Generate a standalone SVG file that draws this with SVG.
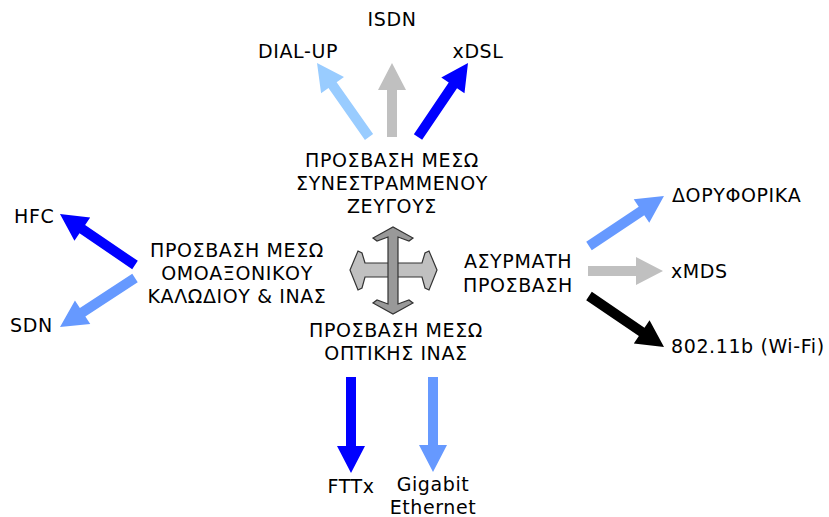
<svg xmlns="http://www.w3.org/2000/svg" width="829" height="517" viewBox="0 0 829 517">
<style>
text{font-family:"DejaVu Sans","Verdana",sans-serif;font-size:19px;fill:#000;letter-spacing:0.6px}
.m{text-anchor:middle}
.b1{fill:#0000ff}.b2{fill:#6699ff}.b3{fill:#99ccff}.g{fill:#c0c0c0}.k{fill:#000}
.cv{fill:#999999;stroke:#333;stroke-width:1.2;stroke-linejoin:miter}
.ch{fill:#c0c0c0;stroke:#333;stroke-width:1.2;stroke-linejoin:miter}
</style>
<rect width="829" height="517" fill="#fff"/>
<g id="connectors">
<polygon class="b3" transform="translate(369,137) rotate(-125.1)" points="0,-5 63.4,-5 63.4,-14 90.4,0 63.4,14 63.4,5 0,5"/>
<polygon class="g" transform="translate(392,137) rotate(-90)" points="0,-5 47,-5 47,-14 74,0 47,14 47,5 0,5"/>
<polygon class="b1" transform="translate(418,137) rotate(-55.95)" points="0,-5 62.3,-5 62.3,-14 89.3,0 62.3,14 62.3,5 0,5"/>
<polygon class="b1" transform="translate(135,265) rotate(-145.8)" points="0,-5 63.7,-5 63.7,-14 90.7,0 63.7,14 63.7,5 0,5"/>
<polygon class="b2" transform="translate(135,278) rotate(146.8)" points="0,-5 62.6,-5 62.6,-14 89.6,0 62.6,14 62.6,5 0,5"/>
<polygon class="b2" transform="translate(589,246) rotate(-33.7)" points="0,-5 63.1,-5 63.1,-14 90.1,0 63.1,14 63.1,5 0,5"/>
<polygon class="g" transform="translate(588,271)" points="0,-5 48,-5 48,-14 75,0 48,14 48,5 0,5"/>
<polygon class="k" transform="translate(589,296) rotate(34.2)" points="0,-5 63.7,-5 63.7,-14 90.7,0 63.7,14 63.7,5 0,5"/>
<polygon class="b1" transform="translate(351,377) rotate(90)" points="0,-5 69,-5 69,-14 96,0 69,14 69,5 0,5"/>
<polygon class="b2" transform="translate(433,377) rotate(90)" points="0,-5 68,-5 68,-14 95,0 68,14 68,5 0,5"/>
</g>
<g id="cross">
<path class="ch" d="M365,263 L362,253 L358,251 L350,270 L358,290 L362,288 L365,277 L422,277 L425,288 L429,290 L437,270 L429,251 L425,253 L422,263 Z"/>
<path class="cv" d="M388,237 L377,241 L373,238 L393,227 L413,238 L409,241 L398,237 L398,304 L409,300 L413,303 L393,314 L373,303 L377,300 L388,304 Z"/>
</g>
<g id="node-twisted">
<text class="m" x="392" y="167">ΠΡΟΣΒΑΣΗ ΜΕΣΩ</text>
<text class="m" x="392" y="190">ΣΥΝΕΣΤΡΑΜΜΕΝΟΥ</text>
<text class="m" x="392" y="213">ΖΕΥΓΟΥΣ</text>
</g>
<g id="node-coax">
<text class="m" x="237" y="257">ΠΡΟΣΒΑΣΗ ΜΕΣΩ</text>
<text class="m" x="237" y="280">ΟΜΟΑΞΟΝΙΚΟΥ</text>
<text class="m" x="237" y="303">ΚΑΛΩΔΙΟΥ &amp; ΙΝΑΣ</text>
</g>
<g id="node-wireless">
<text class="m" x="518" y="268">ΑΣΥΡΜΑΤΗ</text>
<text class="m" x="518" y="292">ΠΡΟΣΒΑΣΗ</text>
</g>
<g id="node-fiber">
<text class="m" x="396" y="337">ΠΡΟΣΒΑΣΗ ΜΕΣΩ</text>
<text class="m" x="396" y="360">ΟΠΤΙΚΗΣ ΙΝΑΣ</text>
</g>
<g id="node-isdn"><text class="m" x="392" y="26">ISDN</text></g>
<g id="node-dialup"><text class="m" x="298" y="58">DIAL-UP</text></g>
<g id="node-xdsl"><text class="m" x="478" y="58">xDSL</text></g>
<g id="node-hfc"><text x="14" y="223">HFC</text></g>
<g id="node-sdn"><text x="10" y="332">SDN</text></g>
<g id="node-sat"><text x="672" y="202">ΔΟΡΥΦΟΡΙΚΑ</text></g>
<g id="node-xmds"><text x="671" y="278">xMDS</text></g>
<g id="node-wifi"><text x="671" y="353">802.11b (Wi-Fi)</text></g>
<g id="node-fttx"><text class="m" x="351" y="493">FTTx</text></g>
<g id="node-gige">
<text class="m" x="433" y="491">Gigabit</text>
<text class="m" x="433" y="514">Ethernet</text>
</g>
</svg>
